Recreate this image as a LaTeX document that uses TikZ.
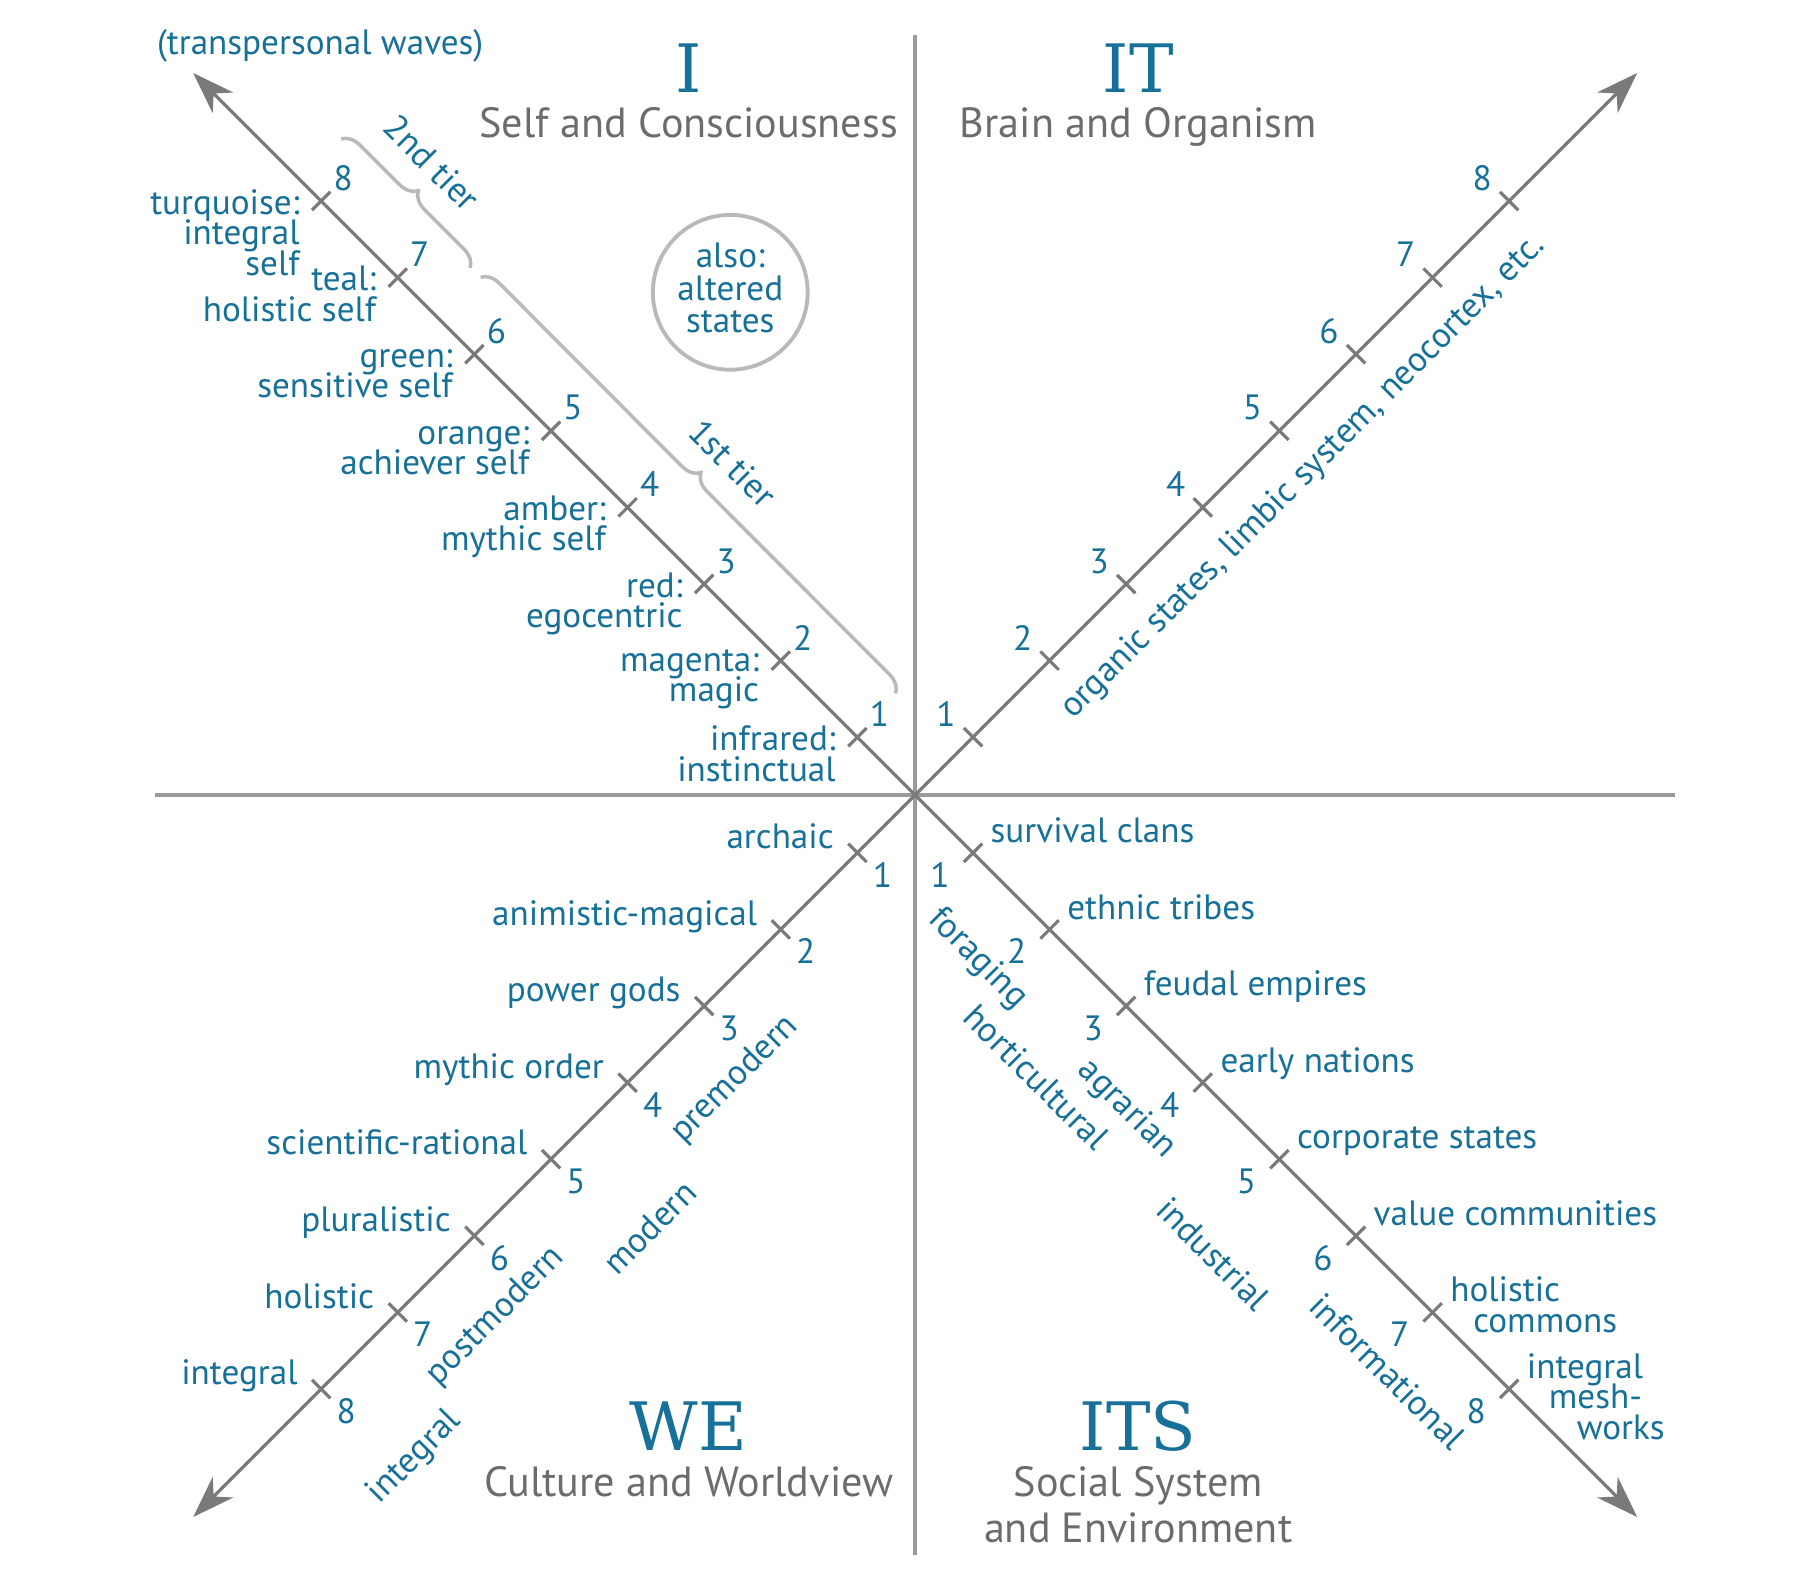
\documentclass[tikz,border=0pt]{standalone}
\usepackage{fontspec}
\setmainfont{PT Sans}
\newfontfamily\headfamily{DejaVu Serif}
\usepackage{tikz}
\usetikzlibrary{calc,positioning,arrows.meta,decorations.pathreplacing}

\definecolor{tealtext}{RGB}{22,112,152}
\definecolor{axisgray}{RGB}{122,122,122}
\definecolor{linegray}{RGB}{155,155,155}
\definecolor{bracegray}{RGB}{185,185,185}
\definecolor{headgray}{RGB}{108,108,108}
\newcommand\lblfont{\fontsize{10}{8.6}\selectfont\lineskiplimit=-10pt\relax}
\newcommand\quadfont{\fontsize{12}{13.1}\selectfont\lineskiplimit=-10pt\relax}
\newcommand\bigfont{\headfamily\fontsize{19}{19}\selectfont}

\begin{document}
\begin{tikzpicture}[tkdown/.style={draw=axisgray,line width=.9pt,inner sep=0pt,minimum width=0pt,minimum height=.26cm,rotate=-45},
                    tkup/.style={draw=axisgray,line width=.9pt,inner sep=0pt,minimum width=0pt,minimum height=.26cm,rotate=45},
                    axis/.style={draw=axisgray,line width=.9pt,{Stealth[length=4.2mm,width=2.9mm,inset=1.3mm]}-{Stealth[length=4.2mm,width=2.9mm,inset=1.3mm]}},
                    cross/.style={draw=linegray,line width=1pt},
                    brc/.style={draw=bracegray,line width=1pt,decorate,decoration={brace,amplitude=1.8mm}},
                    num/.style={text=tealtext,font=\lblfont,inner sep=0pt},
                    inum/.style={num,shift={(.22,.23)}},
                    itnum/.style={num,shift={(-.27,.23)}},
                    wenum/.style={num,shift={(.25,-.22)}},
                    itsnum/.style={num,shift={(-.33,-.22)}},
                    ilbl/.style={num,align=right,anchor=north east,shift={(-.21,.12)}},
                    welbl/.style={num,anchor=mid east,shift={(-.23,.13)}},
                    itslbl/.style={num,anchor=mid west,shift={(.17,.19)}},
                    itslbl2/.style={num,align=left,anchor=north west,shift={(.17,.36)}},
                    rot/.style={num},
                    big/.style={text=tealtext,font=\bigfont,inner sep=0pt,anchor=base},
                    quad/.style={text=headgray,font=\quadfont,inner sep=0pt,anchor=base,align=center}]
                                \useasboundingbox (-9.152,-7.83) rectangle (8.968,7.95);
                                \coordinate (o) at (0,0);
                                \coordinate (vtop) at (0,7.6);
                                \coordinate (vbot) at (0,-7.6);
                                \coordinate (hl) at (-7.6,0);
                                \coordinate (hr) at (7.6,0);
                                \coordinate (ul) at (-7.22,7.22);
                                \coordinate (lr) at (7.22,-7.22);
                                \coordinate (ur) at (7.22,7.22);
                                \coordinate (ll) at (-7.22,-7.22);

                                \draw[cross] (vtop) -- (vbot);
                                \draw[cross] (hl) -- (hr);
                                \draw[axis] (ul) -- (lr);
                                \draw[axis] (ll) -- (ur);

                                % I
                                \node[tkdown] (i1) at (-0.578,0.578) {};
                                \node[tkdown] (i2) at (-1.344,1.344) {};
                                \node[tkdown] (i3) at (-2.110,2.110) {};
                                \node[tkdown] (i4) at (-2.876,2.876) {};
                                \node[tkdown] (i5) at (-3.642,3.642) {};
                                \node[tkdown] (i6) at (-4.408,4.408) {};
                                \node[tkdown] (i7) at (-5.174,5.174) {};
                                \node[tkdown] (i8) at (-5.940,5.940) {};
                                \node[inum] (i1n) at (i1) {1};
                                \node[inum] (i2n) at (i2) {2};
                                \node[inum] (i3n) at (i3) {3};
                                \node[inum] (i4n) at (i4) {4};
                                \node[inum] (i5n) at (i5) {5};
                                \node[inum] (i6n) at (i6) {6};
                                \node[inum] (i7n) at (i7) {7};
                                \node[inum] (i8n) at (i8) {8};
                                \node[ilbl] (i1t) at (i1) {infrared:\\instinctual};
                                \node[ilbl] (i2t) at (i2) {magenta:\\magic};
                                \node[ilbl] (i3t) at (i3) {red:\\egocentric};
                                \node[ilbl] (i4t) at (i4) {amber:\\mythic self};
                                \node[ilbl] (i5t) at (i5) {\vphantom{l}orange:\\achiever self};
                                \node[ilbl] (i6t) at (i6) {\vphantom{l}green:\\sensitive self};
                                \node[ilbl] (i7t) at (i7) {teal:\\holistic self};
                                \node[ilbl] (i8t) at (i8) {turquoise:\\integral\\self};
                                \coordinate (b2a) at (-5.74,6.56);
                                \coordinate (b2b) at (-4.45,5.27);
                                \coordinate (b1a) at (-4.345,5.177);
                                \coordinate (b1b) at (-0.196,1.017);
                                \draw[brc] (b2a) -- (b2b);
                                \draw[brc] (b1a) -- (b1b);
                                \node[rot,rotate=-45] (tier2) at (-4.830,6.321) {2nd tier};
                                \node[rot,rotate=-45] (tier1) at (-1.826,3.317) {1st tier};
                                \node[draw=bracegray,line width=1.1pt,circle,minimum size=1.548cm,inner sep=0pt] (altc) at (-1.849,5.027) {};
                                \node[num,align=center,font=\fontsize{10}{9.2}\selectfont] (alt) at (-1.849,5.07) {also:\\altered\\states};
                                \node[num] (tw) at (-5.95,7.49) {(transpersonal waves)};
                                \node[big] (hI) at (-2.265,7.03) {I};
                                \node[quad] (sI) at (-2.265,6.58) {Self and Consciousness};

                                % IT
                                \node[tkup] (it1) at (0.578,0.578) {};
                                \node[tkup] (it2) at (1.344,1.344) {};
                                \node[tkup] (it3) at (2.110,2.110) {};
                                \node[tkup] (it4) at (2.876,2.876) {};
                                \node[tkup] (it5) at (3.642,3.642) {};
                                \node[tkup] (it6) at (4.408,4.408) {};
                                \node[tkup] (it7) at (5.174,5.174) {};
                                \node[tkup] (it8) at (5.940,5.940) {};
                                \node[itnum] (it1n) at (it1) {1};
                                \node[itnum] (it2n) at (it2) {2};
                                \node[itnum] (it3n) at (it3) {3};
                                \node[itnum] (it4n) at (it4) {4};
                                \node[itnum] (it5n) at (it5) {5};
                                \node[itnum] (it6n) at (it6) {6};
                                \node[itnum] (it7n) at (it7) {7};
                                \node[itnum] (it8n) at (it8) {8};
                                \node[rot,rotate=45] (org) at (3.883,3.178) {organic states, limbic system, neocortex, etc.};
                                \node[big] (hIT) at (2.23,7.03) {IT};
                                \node[quad] (sIT) at (2.23,6.58) {Brain and Organism};

                                % WE
                                \node[tkup] (we1) at (-0.578,-0.578) {};
                                \node[tkup] (we2) at (-1.344,-1.344) {};
                                \node[tkup] (we3) at (-2.110,-2.110) {};
                                \node[tkup] (we4) at (-2.876,-2.876) {};
                                \node[tkup] (we5) at (-3.642,-3.642) {};
                                \node[tkup] (we6) at (-4.408,-4.408) {};
                                \node[tkup] (we7) at (-5.174,-5.174) {};
                                \node[tkup] (we8) at (-5.940,-5.940) {};
                                \node[wenum] (we1n) at (we1) {1};
                                \node[wenum] (we2n) at (we2) {2};
                                \node[wenum] (we3n) at (we3) {3};
                                \node[wenum] (we4n) at (we4) {4};
                                \node[wenum] (we5n) at (we5) {5};
                                \node[wenum] (we6n) at (we6) {6};
                                \node[wenum] (we7n) at (we7) {7};
                                \node[wenum] (we8n) at (we8) {8};
                                \node[welbl] (we1t) at (we1) {archaic};
                                \node[welbl] (we2t) at (we2) {animistic-magical};
                                \node[welbl] (we3t) at (we3) {power gods};
                                \node[welbl] (we4t) at (we4) {mythic order};
                                \node[welbl] (we5t) at (we5) {scientific-rational};
                                \node[welbl] (we6t) at (we6) {pluralistic};
                                \node[welbl] (we7t) at (we7) {holistic};
                                \node[welbl] (we8t) at (we8) {integral};
                                \node[rot,rotate=45] (pre) at (-1.803,-2.843) {premodern};
                                \node[rot,rotate=45] (mod) at (-2.658,-4.322) {modern};
                                \node[rot,rotate=45] (post) at (-4.195,-5.212) {postmodern};
                                \node[rot,rotate=45] (intg) at (-5.004,-6.622) {integral};
                                \node[big] (hWE) at (-2.265,-6.55) {WE};
                                \node[quad] (sWE) at (-2.265,-7.01) {Culture and Worldview};

                                % ITS
                                \node[tkdown] (its1) at (0.578,-0.578) {};
                                \node[tkdown] (its2) at (1.344,-1.344) {};
                                \node[tkdown] (its3) at (2.110,-2.110) {};
                                \node[tkdown] (its4) at (2.876,-2.876) {};
                                \node[tkdown] (its5) at (3.642,-3.642) {};
                                \node[tkdown] (its6) at (4.408,-4.408) {};
                                \node[tkdown] (its7) at (5.174,-5.174) {};
                                \node[tkdown] (its8) at (5.940,-5.940) {};
                                \node[itsnum] (its1n) at (its1) {1};
                                \node[itsnum] (its2n) at (its2) {2};
                                \node[itsnum] (its3n) at (its3) {3};
                                \node[itsnum] (its4n) at (its4) {4};
                                \node[itsnum] (its5n) at (its5) {5};
                                \node[itsnum] (its6n) at (its6) {6};
                                \node[itsnum] (its7n) at (its7) {7};
                                \node[itsnum] (its8n) at (its8) {8};
                                \node[itslbl] (its1t) at (its1) {survival clans};
                                \node[itslbl] (its2t) at (its2) {ethnic tribes};
                                \node[itslbl] (its3t) at (its3) {feudal empires};
                                \node[itslbl] (its4t) at (its4) {early nations};
                                \node[itslbl] (its5t) at (its5) {corporate states};
                                \node[itslbl] (its6t) at (its6) {value communities};
                                \node[itslbl2] (its7t) at (its7) {holistic\\\hspace{2.3mm}commons};
                                \node[itslbl2] (its8t) at (its8) {integral\\\hspace{2.2mm}mesh-\\\hspace{5mm}works};
                                \node[rot,rotate=-45] (frg) at (0.624,-1.641) {foraging};
                                \node[rot,rotate=-45] (hort) at (1.213,-2.820) {horticultural};
                                \node[rot,rotate=-45] (agr) at (2.115,-3.143) {agrarian};
                                \node[rot,rotate=-45] (ind) at (2.981,-4.588) {industrial};
                                \node[rot,rotate=-45] (inf) at (4.726,-5.766) {informational};
                                \node[big] (hITS) at (2.23,-6.55) {ITS};
                                \node[quad,anchor=north] (sITS) at (2.23,-6.71) {Social System\\and Environment};
                            \end{tikzpicture}
\end{document}
